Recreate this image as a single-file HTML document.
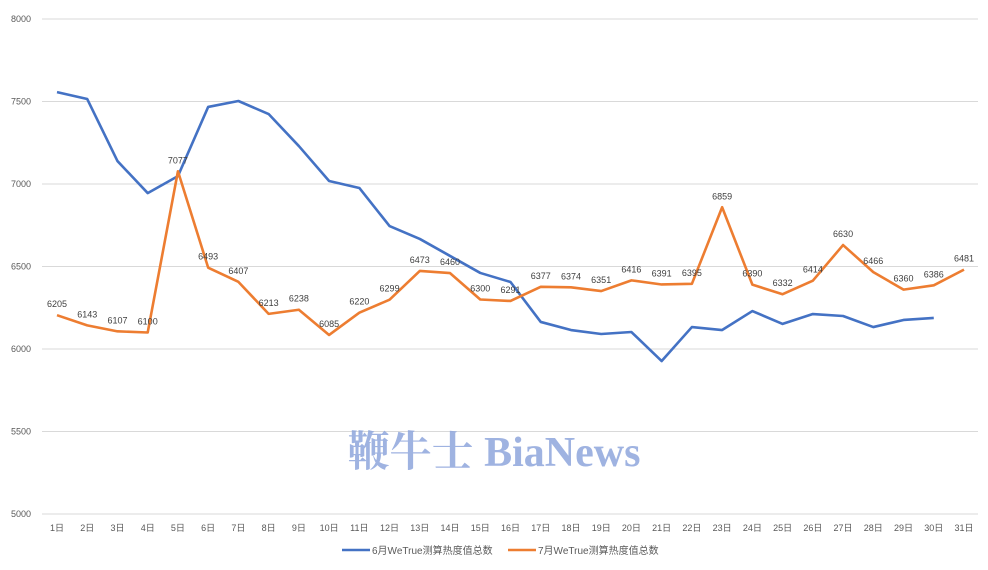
<!DOCTYPE html>
<html><head><meta charset="utf-8"><style>
body{margin:0;background:#fff;width:988px;height:565px;overflow:hidden;font-family:"Liberation Sans","Noto Sans CJK SC",sans-serif}
</style></head><body>
<svg id="chart" width="988" height="565" xmlns="http://www.w3.org/2000/svg"></svg>
<script>
const categories=["1日","2日","3日","4日","5日","6日","7日","8日","9日","10日","11日","12日","13日","14日","15日","16日","17日","18日","19日","20日","21日","22日","23日","24日","25日","26日","27日","28日","29日","30日","31日"];
const juneValues=[7557,7515,7139,6945,7048,7467,7503,7424,7230,7018,6976,6745,6667,6564,6461,6406,6164,6115,6091,6103,5927,6133,6115,6230,6152,6212,6200,6133,6176,6188];
const julyValues=[6205,6143,6107,6100,7077,6493,6407,6213,6238,6085,6220,6299,6473,6460,6300,6291,6377,6374,6351,6416,6391,6395,6859,6390,6332,6414,6630,6466,6360,6386,6481];
const yTicks=[5000,5500,6000,6500,7000,7500,8000];
const NS="http://www.w3.org/2000/svg";
const svg=document.getElementById('chart');
const x=i=>57+i*(964-57)/30;
const y=v=>514-(v-5000)*0.165;
function mk(t,a,txt){const e=document.createElementNS(NS,t);for(const k in a)e.setAttribute(k,a[k]);if(txt!=null)e.textContent=txt;svg.appendChild(e);return e;}
yTicks.forEach(v=>{
 const g=mk('line',{x1:42,x2:978,y1:y(v),y2:y(v),stroke:'#d9d9d9','stroke-width':1});
 
 
 const t=mk('text',{x:31,y:y(v)+3,'font-size':9,fill:'#595959','text-anchor':'end'},v);
 
 
});
categories.forEach((c,i)=>{
 const t=mk('text',{x:x(i),y:531,'font-size':9,fill:'#595959','text-anchor':'middle'},c);
 
 
});
const wm=mk('text',{x:494,y:466,'font-size':42,fill:'#8fa6dc','text-anchor':'middle','font-family':'"Liberation Serif","Noto Serif CJK SC",serif','font-weight':'bold',opacity:0.85},'鞭牛士 BiaNews');


function line(vals,color,name){
 const p=mk('polyline',{points:vals.map((v,i)=>x(i)+','+y(v)).join(' '),fill:'none',stroke:color,'stroke-width':2.6,'stroke-linejoin':'round'});
 
 
}
line(juneValues,'#4472c4','june-series-line');
line(julyValues,'#ed7d31','july-series-line');
julyValues.forEach((v,i)=>{
 const t=mk('text',{x:x(i),y:y(v)-8,'font-size':9,fill:'#404040','text-anchor':'middle'},v);
 
 
});
const l1=mk('line',{x1:342,x2:370,y1:550,y2:550,stroke:'#4472c4','stroke-width':2.6});


const t1=mk('text',{x:372,y:554,'font-size':10,fill:'#595959'},'6月WeTrue测算热度值总数');


const l2=mk('line',{x1:508,x2:536,y1:550,y2:550,stroke:'#ed7d31','stroke-width':2.6});


const t2=mk('text',{x:538,y:554,'font-size':10,fill:'#595959'},'7月WeTrue测算热度值总数');


</script>
</body></html>
